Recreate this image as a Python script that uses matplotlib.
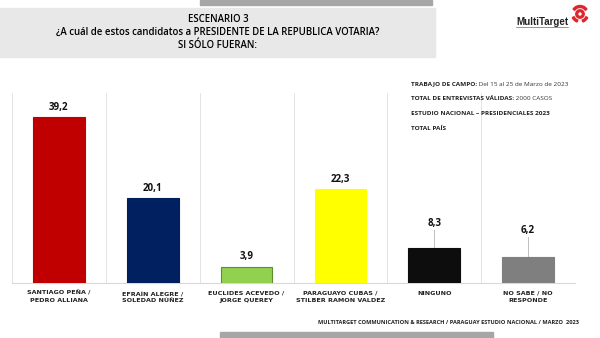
import matplotlib.pyplot as plt
from matplotlib.patches import Rectangle, Circle, Wedge

# data
labels = ["SANTIAGO PEÑA /\nPEDRO ALLIANA", "EFRAÍN ALEGRE /\nSOLEDAD NÚÑEZ",
          "EUCLIDES ACEVEDO /\nJORGE QUEREY", "PARAGUAYO CUBAS /\nSTILBER RAMON VALDEZ",
          "NINGUNO", "NO SABE / NO\nRESPONDE"]
values = [39.2, 20.1, 3.9, 22.3, 8.3, 6.2]
value_text = ["39,2", "20,1", "3,9", "22,3", "8,3", "6,2"]
colors = ["#C00000", "#002060", "#92D050", "#FFFF00", "#0D0D0D", "#7F7F7F"]
edges = ["#C00000", "#002060", "#5E8C2E", "#FFFF00", "#0D0D0D", "#7F7F7F"]
# data labels lifted above the short bars with a leader line
label_offset = [0, 0, 0, 0, 3.5, 4.0]

info_lines = [("TRABAJO DE CAMPO:", " Del 15 al 25 de Marzo de 2023"),
              ("TOTAL DE ENTREVISTAS VÁLIDAS:", " 2000 CASOS"),
              ("ESTUDIO NACIONAL – PRESIDENCIALES 2023", ""),
              ("TOTAL PAÍS", "")]

plt.rcParams['font.family'] = ['Open Sans', 'DejaVu Sans']
W, H = 600, 338
fig = plt.figure(figsize=(6, 3.38), dpi=100)

def px(x0, y0, x1, y1):
    return [x0 / W, 1 - y1 / H, (x1 - x0) / W, (y1 - y0) / H]

# background decorations
deco = fig.add_axes([0, 0, 1, 1])
deco.set_xlim(0, W)
deco.set_ylim(H, 0)
deco.axis("off")
deco.add_patch(Rectangle((200, 0), 232, 5, color="#A6A6A6"))
deco.add_patch(Rectangle((0, 8), 435, 49, color="#E8E8E8"))
deco.add_patch(Rectangle((220, 332), 273, 6, color="#A6A6A6"))
header = ["ESCENARIO 3",
          "¿A cuál de estos candidatos a PRESIDENTE DE LA REPUBLICA VOTARIA?",
          "SI SÓLO FUERAN:"]
for i, t in enumerate(header):
    deco.text(218, 19 + i * 13.5, t, ha="center", va="center", fontsize=6.9,
              fontweight="semibold", color="#000000")

# logo
deco.text(542, 22, "MultiTarget", ha="center", va="center", fontsize=7,
          fontweight="bold", color="#222222", family=["Liberation Sans Narrow", "Liberation Sans"])
deco.plot([516, 568], [26.5, 26.5], color="#444444", linewidth=0.4)
red = "#E0262D"
cx, cy = 580, 14
deco.add_patch(Wedge((cx, cy), 4.2, 0, 360, width=1.8, color=red))
deco.add_patch(Wedge((cx, cy), 8.5, 110, 155, width=2.0, color=red))
deco.add_patch(Wedge((cx, cy), 8.5, 25, 70, width=2.0, color=red))
deco.add_patch(Wedge((cx, cy), 8.5, 215, 325, width=2.0, color=red))

# footer
deco.text(448, 323, "MULTITARGET COMMUNICATION & RESEARCH / PARAGUAY ESTUDIO NACIONAL / MARZO  2023",
          ha="center", va="center", fontsize=4.1, fontweight="bold", color="#222222")

# chart
ax = fig.add_axes(px(12, 93, 575, 283))
ax.patch.set_alpha(0)
x = range(len(values))
ax.bar(x, values, width=0.55, color=colors, edgecolor=edges, linewidth=0.8, zorder=3)
ax.set_xlim(-0.5, len(values) - 0.5)
ax.set_ylim(0, 45)
for s in ["top", "right", "left"]:
    ax.spines[s].set_visible(False)
ax.spines["bottom"].set_color("#D9D9D9")
ax.set_yticks([])
ax.set_xticks([])
for b in range(len(values) + 1):
    ax.axvline(b - 0.5, color="#E3E3E3", linewidth=0.7, zorder=1)

for i, (v, t, off) in enumerate(zip(values, value_text, label_offset)):
    ty = v + off + 1.0
    if off:
        ax.plot([i, i], [v, ty - 0.3], color="#BFBFBF", linewidth=0.7, zorder=2)
    ax.text(i, ty, t, ha="center", va="bottom", fontsize=7, fontweight="bold", color="#111111")
    ax.text(i, -1.8, labels[i], ha="center", va="top", fontsize=4.6, fontweight="bold",
            color="#222222", linespacing=1.5, family=["DejaVu Sans"])

# info block on top of the chart
top = fig.add_axes([0, 0, 1, 1])
top.set_xlim(0, W)
top.set_ylim(H, 0)
top.axis("off")
top.patch.set_alpha(0)
for i, (b, r) in enumerate(info_lines):
    tb = top.text(411, 84 + i * 14.7, b, ha="left", va="center", fontsize=4.6,
                  fontweight="bold", color="#222222")
    if r:
        top.annotate(r, xy=(1, 0.5), xycoords=tb, ha="left", va="center",
                     fontsize=4.6, color="#333333")

fig.savefig("out.png", dpi=100)
